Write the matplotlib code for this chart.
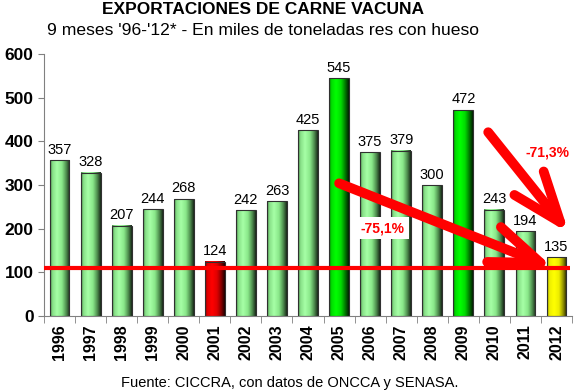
import matplotlib
matplotlib.use("Agg")
import matplotlib.pyplot as plt
import numpy as np
from matplotlib.colors import LinearSegmentedColormap

plt.rcParams['font.family'] = ['Liberation Sans', 'DejaVu Sans']

years = ['1996', '1997', '1998', '1999', '2000', '2001', '2002', '2003', '2004',
         '2005', '2006', '2007', '2008', '2009', '2010', '2011', '2012']
values = [357, 328, 207, 244, 268, 124, 242, 263, 425, 545, 375, 379, 300, 472, 243, 194, 135]
kinds = ['light'] * 5 + ['red'] + ['light'] * 3 + ['bright'] + ['light'] * 3 + ['bright'] + ['light'] * 2 + ['yellow']
ref_level = 110
title = 'EXPORTACIONES DE CARNE VACUNA'
subtitle = "9 meses '96-'12* - En miles de toneladas res con hueso"
source = 'Fuente: CICCRA, con datos de ONCCA y SENASA.'
yticks = [0, 100, 200, 300, 400, 500, 600]

palettes = {
    'light': [(0.0, '#4a8a4a'), (0.12, '#88e088'), (0.35, '#a6ffa6'), (0.6, '#8ae88a'), (0.82, '#4f8f4f'), (1.0, '#1a2a1a')],
    'bright': [(0.0, '#008800'), (0.12, '#00dd00'), (0.35, '#00ff00'), (0.6, '#00dd00'), (0.82, '#007a00'), (1.0, '#002000')],
    'red': [(0.0, '#900000'), (0.12, '#e00000'), (0.35, '#ff0000'), (0.6, '#e00000'), (0.82, '#880000'), (1.0, '#200000')],
    'yellow': [(0.0, '#999900'), (0.12, '#eeee00'), (0.35, '#ffff00'), (0.6, '#eeee00'), (0.82, '#909000'), (1.0, '#202000')],
}

fig = plt.figure(figsize=(5.79, 3.92), dpi=100)
ax = fig.add_axes([0.076, 0.194, 0.912, 0.668])
n = len(years)
x = np.arange(n)
bw = 0.64

grad = np.linspace(0, 1, 64).reshape(1, -1)
for xi, v, k in zip(x, values, kinds):
    cmap = LinearSegmentedColormap.from_list(k, palettes[k])
    ax.imshow(grad, cmap=cmap, aspect='auto',
              extent=(xi - bw / 2, xi + bw / 2, 0, v), zorder=2, interpolation='bilinear')
    ax.bar(xi, v, width=bw, facecolor='none', edgecolor='#303030', linewidth=0.8, zorder=3)
    ax.text(xi, v + 8, str(v), ha='center', va='bottom', fontsize=10.5, color='black', zorder=6)

ax.set_xlim(-0.5, n - 0.5)
ax.set_ylim(0, 600)

ax.plot([-0.5, 16.45], [ref_level, ref_level], color='#ff0000', lw=3, zorder=4, solid_capstyle='butt')

arrow_kw = dict(arrowstyle='->,head_length=3.6,head_width=1.35', color='#ff0000', lw=7,
                shrinkA=0, shrinkB=0, capstyle='round', joinstyle='round')
ax.annotate('', xy=(15.9, ref_level), xytext=(9.0, 304), arrowprops=arrow_kw, zorder=5)
ax.annotate('', xy=(16.4, 190), xytext=(13.8, 421), arrowprops=arrow_kw, zorder=5)

ax.text(10.4, 201, '-75,1%', ha='center', va='center', fontsize=10, fontweight='bold',
        color='#ff0000', zorder=7,
        bbox=dict(facecolor='white', edgecolor='none', pad=3))
ax.text(15.7, 375, '-71,3%', ha='center', va='center', fontsize=10, fontweight='bold',
        color='#ff0000', zorder=7)

ax.set_yticks(yticks)
ax.set_yticklabels([str(t) for t in yticks], fontsize=12.5, fontweight='bold')
ax.set_xticks(x)
ax.set_xticklabels(years, rotation=90, fontsize=11.5, fontweight='bold')
ax.set_xticks(np.arange(-0.5, n, 1), minor=True)
ax.tick_params(axis='x', which='major', length=0, pad=6)
ax.tick_params(axis='x', which='minor', length=5, color='#808080')
ax.tick_params(axis='y', length=4, color='#808080')
for s in ['top', 'right']:
    ax.spines[s].set_visible(False)
ax.spines['left'].set_color('#808080')
ax.spines['bottom'].set_color('#808080')

fig.text(0.455, 0.975, title, ha='center', va='center', fontsize=12.5, fontweight='bold')
fig.text(0.455, 0.922, subtitle, ha='center', va='center', fontsize=12.6)
fig.text(0.50, 0.023, source, ha='center', va='center', fontsize=10.5)

fig.savefig('out.png', dpi=100)
